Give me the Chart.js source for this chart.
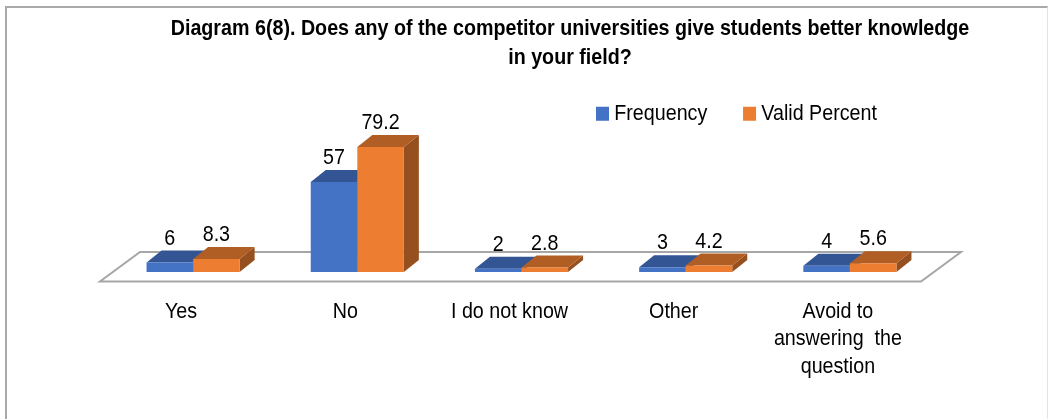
<!DOCTYPE html>
<html>
<head>
<meta charset="utf-8">
<title>Diagram 6(8)</title>
<script src="https://cdn.jsdelivr.net/npm/chart.js@4"></script>
<style>
html, body { margin: 0; padding: 0; background: #fff; overflow: hidden; }
#frame { position: absolute; left: 5px; top: 6px; width: 1043px; height: 420px; box-sizing: border-box;
  border-left: 2px solid #a9a9a9; border-top: 2px solid #a9a9a9; border-right: 1px solid #e4e4e4; }
#wrap { position: absolute; left: 0; top: 0; width: 1048px; height: 419px; }
</style>
</head>
<body>
<div id="frame"></div>
<div id="wrap"><canvas id="myChart" width="1048" height="419"></canvas></div>
<script>
const categories = ['Yes', 'No', 'I do not know', 'Other', ['Avoid to', 'answering  the', 'question']];
const frequency = [6, 57, 2, 3, 4];
const validPercent = [8.3, 79.2, 2.8, 4.2, 5.6];
const titleLines = ['Diagram 6(8). Does any of the competitor universities give students better knowledge', 'in your field?'];

const FONT = '"Liberation Sans", Arial, sans-serif';
const DEPTH_X = 15;
const DEPTH_Y = -12;
const sideColors = ['#2f5290', '#964f1e'];
const topColors = ['#335593', '#b15e24'];

function poly(ctx, pts, fill) {
    ctx.beginPath();
    pts.forEach((p, i) => i ? ctx.lineTo(p[0], p[1]) : ctx.moveTo(p[0], p[1]));
    ctx.closePath();
    ctx.fillStyle = fill;
    ctx.fill();
}

// moves title and legend to where the original has them
const placeBoxes = {
    id: 'placeBoxes',
    afterLayout(chart) {
        const t = chart.titleBlock;
        t.left += 48.5;
        t.right += 48.5;
        t.top += 12.5;
        t.bottom += 12.5;
        const l = chart.legend;
        const w = l.right - l.left;
        const h = l.bottom - l.top;
        l.left = 573.5;
        l.right = l.left + w;
        l.top = 74;
        l.bottom = l.top + h;
    }
};

// floor, and the top and side faces of the bars
const fake3d = {
    id: 'fake3d',
    beforeDatasetsDraw(chart) {
        const ctx = chart.ctx;
        const a = chart.chartArea;
        const base = chart.scales.y.getPixelForValue(0);
        ctx.save();
        ctx.strokeStyle = '#a6a6a6';
        ctx.lineWidth = 2;
        ctx.beginPath();
        ctx.moveTo(a.left - 11, base + 9.5);
        ctx.lineTo(a.right - 11, base + 9.5);
        ctx.lineTo(a.right + 29, base - 20);
        ctx.lineTo(a.left + 29, base - 20);
        ctx.closePath();
        ctx.stroke();
        chart.data.datasets.forEach((ds, i) => {
            chart.getDatasetMeta(i).data.forEach(bar => {
                const l = bar.x - bar.width / 2, r = bar.x + bar.width / 2;
                poly(ctx, [[r, bar.y], [r + DEPTH_X, bar.y + DEPTH_Y], [r + DEPTH_X, base + DEPTH_Y], [r, base]], sideColors[i]);
                poly(ctx, [[l, bar.y], [l + DEPTH_X, bar.y + DEPTH_Y], [r + DEPTH_X, bar.y + DEPTH_Y], [r, bar.y]], topColors[i]);
            });
        });
        ctx.restore();
    },
    afterDatasetsDraw(chart) {
        const ctx = chart.ctx;
        ctx.save();
        ctx.fillStyle = '#000';
        ctx.font = '22.5px ' + FONT;
        ctx.textAlign = 'center';
        ctx.textBaseline = 'middle';
        chart.data.datasets.forEach((ds, i) => {
            chart.getDatasetMeta(i).data.forEach((bar, j) => {
                ctx.fillText(String(ds.data[j]), bar.x, bar.y - 24);
            });
        });
        ctx.restore();
    }
};

var ctx = document.getElementById('myChart').getContext('2d');

// the original text is condensed and no narrow font is installed, so let fillText squeeze it
const rawFillText = ctx.fillText.bind(ctx);
ctx.fillText = function(s, x, y) {
    rawFillText(s, x, y, ctx.measureText(s).width * 0.875);
};

var myChart = new Chart(ctx, {
    type: 'bar',
    data: {
        labels: categories,
        datasets: [{
            label: 'Frequency',
            data: frequency,
            backgroundColor: '#4472c4'
        }, {
            label: 'Valid Percent',
            data: validPercent,
            backgroundColor: '#ed7d31'
        }]
    },
    options: {
        responsive: false,
        animation: false,
        barPercentage: 1,
        categoryPercentage: 0.567,
        layout: { padding: { left: 111, right: 116, top: 0, bottom: 0 } },
        scales: {
            x: {
                grid: { display: false },
                border: { display: false },
                ticks: {
                    color: '#000',
                    padding: 18,
                    labelOffset: -12,
                    maxRotation: 0,
                    autoSkip: false,
                    font: { family: FONT, size: 22.5, lineHeight: 1.22 }
                },
                afterFit(scale) { scale.height = 147; }
            },
            y: {
                display: false,
                min: 0,
                max: 96
            }
        },
        plugins: {
            title: {
                display: true,
                text: titleLines,
                color: '#000',
                padding: { top: 2, bottom: 0 },
                font: { family: FONT, size: 22.5, weight: 'bold', lineHeight: 1.28 }
            },
            legend: {
                position: 'top',
                align: 'start',
                labels: {
                    color: '#000',
                    boxWidth: 1,
                    boxHeight: 2,
                    padding: 28.5,
                    font: { family: FONT, size: 22.5 },
                    // small box with a thick outline, keeps the text close to the swatch
                    generateLabels(chart) {
                        return Chart.defaults.plugins.legend.labels.generateLabels(chart).map(item => {
                            item.lineWidth = 12;
                            item.strokeStyle = item.fillStyle;
                            return item;
                        });
                    }
                }
            },
            tooltip: { enabled: false }
        }
    },
    plugins: [placeBoxes, fake3d]
});
</script>
</body>
</html>
